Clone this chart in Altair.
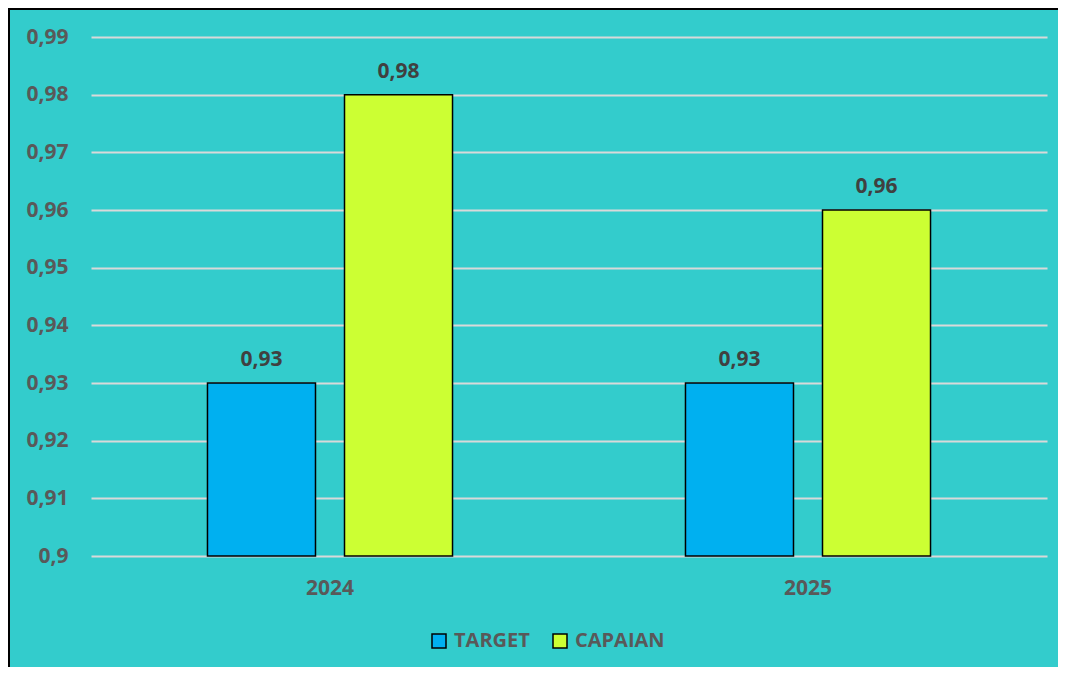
import altair as alt
import pandas as pd

years = ["2024", "2025"]
series = ["TARGET", "CAPAIAN"]
target = [0.93, 0.93]
capaian = [0.98, 0.96]
y_ticks = [0.9, 0.91, 0.92, 0.93, 0.94, 0.95, 0.96, 0.97, 0.98, 0.99]
colors = ["#00B0F0", "#CCFF33"]

rows = []
for i, yr in enumerate(years):
    rows.append({"year": yr, "series": "TARGET", "value": target[i]})
    rows.append({"year": yr, "series": "CAPAIAN", "value": capaian[i]})
df = pd.DataFrame(rows)

FONT = "Open Sans"

x = alt.X(
    "year:N",
    scale=alt.Scale(paddingInner=0, paddingOuter=0),
    axis=alt.Axis(
        title=None, labelAngle=0, labelFontSize=21, labelFontWeight="bold",
        labelColor="#595959", labelPadding=21, ticks=False, domain=False, grid=False,
        labelFont=FONT,
    ),
)
xo = alt.XOffset(
    "series:N", sort=series,
    scale=alt.Scale(domain=series, paddingInner=0.2117, paddingOuter=0.85),
)
y = alt.Y(
    "value:Q",
    scale=alt.Scale(domain=[0.9, 0.99], nice=False, zero=False),
    axis=alt.Axis(
        title=None, values=y_ticks,
        labelExpr="replace(format(datum.value, '.2~f'), '.', ',')",
        labelFontSize=21, labelFontWeight="bold", labelColor="#595959", labelFont=FONT,
        labelPadding=23, ticks=False, domain=False,
        grid=True, gridColor="#D9D9D9", gridWidth=2,
        minExtent=83, maxExtent=83,
    ),
)

base = alt.Chart(df)

bars = base.mark_bar(stroke="black", strokeWidth=1.5).encode(
    x=x,
    xOffset=xo,
    y=y,
    y2=alt.datum(0.9),
    color=alt.Color(
        "series:N",
        scale=alt.Scale(domain=series, range=colors),
        legend=alt.Legend(
            title=None, orient="none", legendX=338, legendY=594, direction="horizontal",
            symbolType="square", symbolSize=196, symbolStrokeColor="black",
            symbolStrokeWidth=1.5, symbolOpacity=1,
            labelFontSize=20, labelFontWeight="bold", labelColor="#595959", labelFont=FONT,
            labelOffset=5, columnPadding=20,
        ),
    ),
)

labels = base.transform_calculate(
    lbl="replace(format(datum.value, '.2f'), '.', ',')"
).mark_text(
    dy=-17, baseline="alphabetic", fontSize=21, fontWeight="bold", color="#404040", font=FONT
).encode(
    x=x, xOffset=xo, y=y, text="lbl:N"
)

border_left = alt.Chart(alt.Data(values=[{}])).mark_rule(color="black", strokeWidth=2).encode(
    x=alt.value(-82), y=alt.value(-29), y2=alt.value(640)
)
border_top = alt.Chart(alt.Data(values=[{}])).mark_rule(color="black", strokeWidth=2).encode(
    y=alt.value(-28), x=alt.value(-83), x2=alt.value(980)
)

chart = alt.layer(bars, labels, border_left, border_top).properties(
    width=956, height=519,
    padding={"left": 83, "top": 29, "right": 11, "bottom": 111},
    autosize=alt.AutoSizeParams(type="none"),
    background="#33CCCC",
).configure_view(stroke=None)

chart.save("out.html", embed_options={"renderer": "svg", "actions": False})
